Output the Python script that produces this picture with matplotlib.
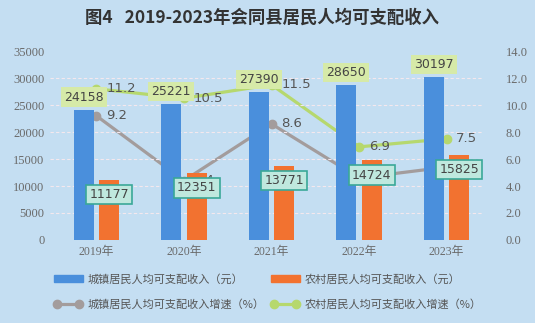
import numpy as np
import matplotlib
matplotlib.use("Agg")
import matplotlib.pyplot as plt
from matplotlib.patches import Patch
from matplotlib.lines import Line2D

plt.rcParams['font.family'] = ['Noto Sans CJK SC', 'DejaVu Sans']

years = ['2019年', '2020年', '2021年', '2022年', '2023年']
urban_income = [24158, 25221, 27390, 28650, 30197]
rural_income = [11177, 12351, 13771, 14724, 15825]
urban_growth = [9.2, 4.4, 8.6, 4.6, 5.4]
rural_growth = [11.2, 10.5, 11.5, 6.9, 7.5]
left_ticks = [0, 5000, 10000, 15000, 20000, 25000, 30000, 35000]
right_ticks = [0, 2, 4, 6, 8, 10, 12, 14]

bg = '#c4def2'
c_urban = '#4a8fdc'
c_rural = '#f27230'
c_ug = '#a39c9c'
c_rg = '#b6d86e'
tick_col = '#6a6a6a'

fig = plt.figure(figsize=(5.35, 3.23), dpi=100, facecolor=bg)
ax = fig.add_axes([0.0935, 0.257, 0.81, 0.585])
ax.set_facecolor('none')
ax2 = ax.twinx()

x = np.arange(len(years))
w = 0.23
ax.bar(x - 0.145, urban_income, w, color=c_urban, zorder=2)
ax.bar(x + 0.145, rural_income, w, color=c_rural, zorder=2)

ax.set_ylim(0, 35000)
ax.set_xlim(-0.53, 4.42)
ax.set_yticks(left_ticks)
for yv in left_ticks[1:-1]:
    ax.axhline(yv, color='#f4e8ee', lw=0.8, ls=(0, (3, 2)), zorder=1)
ax.set_xticks(x)
ax.set_xticklabels(years, family=['Liberation Serif', 'Noto Sans CJK SC'], fontsize=8.5, color=tick_col)
ax.set_yticklabels([str(v) for v in left_ticks], family='Liberation Serif', fontsize=9, color=tick_col)
for s in ax.spines.values():
    s.set_visible(False)
for s in ax2.spines.values():
    s.set_visible(False)
ax.tick_params(length=0, pad=4)

ax2.set_ylim(0, 14)
ax2.set_yticks(right_ticks)
ax2.set_yticklabels(['%.1f' % v for v in right_ticks], family='Liberation Serif', fontsize=9, color=tick_col)
ax2.tick_params(length=0, pad=16)

ax2.plot(x, urban_growth, color=c_ug, lw=2.3, marker='o', ms=6, zorder=3)
ax2.plot(x, rural_growth, color=c_rg, lw=2.3, marker='o', ms=6, zorder=3)

for i in range(len(years)):
    ax2.annotate(str(urban_growth[i]), (x[i], urban_growth[i]), xytext=(7, 0),
                 textcoords='offset points', va='center', ha='left',
                 fontsize=9.5, color='#555555', family='DejaVu Sans', zorder=4)
    ax2.annotate(str(rural_growth[i]), (x[i], rural_growth[i]), xytext=(7, 0),
                 textcoords='offset points', va='center', ha='left',
                 fontsize=9.5, color='#555555', family='DejaVu Sans', zorder=4)

ax2.set_zorder(1)
ax.set_zorder(2)
ax.patch.set_visible(False)

# value labels on top of the lines
for i in range(len(years)):
    ax.annotate(str(urban_income[i]), (x[i] - 0.145, urban_income[i]), xytext=(0, 9),
                textcoords='offset points', ha='center', va='center',
                fontsize=9, color='#444444', family='DejaVu Sans', zorder=6,
                bbox=dict(boxstyle='square,pad=0.25', fc='#d6eaa8', ec='none'))
    ax.annotate(str(rural_income[i]), (x[i] + 0.145, rural_income[i]), xytext=(0, -10.5),
                textcoords='offset points', ha='center', va='center',
                fontsize=9, color='#444444', family='DejaVu Sans', zorder=6,
                bbox=dict(boxstyle='square,pad=0.25', fc='#bfe8de', ec='#3aa898', lw=1.2))

handles = [Patch(color=c_urban),
           Line2D([0], [0], color=c_ug, lw=2.3, marker='o', ms=6),
           Patch(color=c_rural),
           Line2D([0], [0], color=c_rg, lw=2.3, marker='o', ms=6)]
labels = ['城镇居民人均可支配收入（元）', '城镇居民人均可支配收入增速（%）',
          '农村居民人均可支配收入（元）', '农村居民人均可支配收入增速（%）']
fig.legend(handles, labels, loc='lower center', bbox_to_anchor=(0.5, 0.01), ncol=2,
           frameon=False, fontsize=8, numpoints=2, handlelength=2.6,
           handleheight=0.6, columnspacing=0.6, handletextpad=0.4,
           labelcolor='#555555', labelspacing=1.3)

fig.text(0.49, 0.945, '图4   2019-2023年会同县居民人均可支配收入', ha='center', va='center',
         fontsize=12.5, fontweight='bold', color='#333333')

fig.savefig('out.png', dpi=100, facecolor=bg)
